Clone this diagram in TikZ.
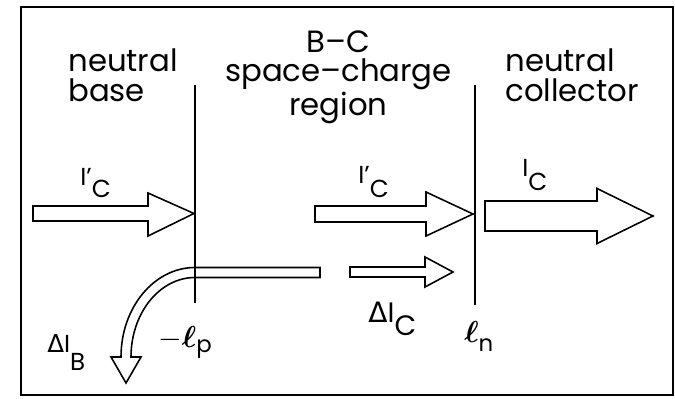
\documentclass[tikz,border=0pt]{standalone}
\usepackage{amsmath}
\usepackage{fontspec}
\setmainfont{Poppins}
\newfontfamily\greekfont{DejaVu Sans}

\tikzset{
  heading/.style={font=\fontsize{17.5}{17}\selectfont, inner sep=0pt},
  lbl/.style={font=\fontsize{14}{14}\selectfont, inner sep=0pt, anchor=base west},
  flow/.style={line width=0.9pt, line join=miter},
  edge/.style={line width=0.9pt}
}

\begin{document}
\begin{tikzpicture}

\useasboundingbox (0,0) rectangle (13.5,7.96);

% Frame
\draw[edge] (0.42,0.06) rectangle (13.46,7.82);

% Region boundaries
\coordinate (lptop) at (3.9,6.26);
\coordinate (lpbot) at (3.9,1.9);
\coordinate (lntop) at (9.5,6.26);
\coordinate (lnbot) at (9.5,1.86);

% Region titles
\node[heading, align=left, anchor=west] (base) at (1.36,6.46)
{neutral\\base};

\node[heading, align=center] (scr) at (6.77,6.42)
{B–C\\space–charge\\region};

\node[heading, align=left, anchor=west] (collector) at (10.1,6.46)
{neutral\\collector};


% I'_C in the base
\draw[flow] (0.66,3.84) -- (2.96,3.84) -- (2.96,4.10) -- (3.88,3.69)
  -- (2.96,3.24) -- (2.96,3.54) -- (0.66,3.54) -- cycle;

\node[lbl] (icbase) at (1.6,4.26)
{I'\raisebox{-0.24cm}{C}};


% I'_C in the space-charge region
\draw[flow] (6.3,3.84) -- (8.52,3.84) -- (8.52,4.12) -- (9.46,3.68)
  -- (8.52,3.24) -- (8.52,3.52) -- (6.3,3.52) -- cycle;

\node[lbl] (icscr) at (7.16,4.3)
{I'\raisebox{-0.28cm}{C}};


% Delta I_C
\draw[flow] (7.0,2.62) -- (8.5,2.62) -- (8.5,2.82) -- (9.06,2.52)
  -- (8.5,2.22) -- (8.5,2.42) -- (7.0,2.42) -- cycle;

\node[lbl, font=\fontsize{16}{16}\selectfont] (dic) at (7.36,1.52)
{{\greekfont Δ}I\raisebox{-0.26cm}{C}};


% I_C in the collector
\draw[flow] (9.7,3.94) -- (11.94,3.94) -- (11.94,4.19) -- (13.06,3.64)
  -- (11.94,3.09) -- (11.94,3.34) -- (9.7,3.34) -- cycle;

\node[lbl] (iccoll) at (10.44,4.42)
{I\raisebox{-0.28cm}{C}};


% Delta I_B, bending down into the base
\draw[flow] (6.4,2.61) -- (3.9,2.61)
  arc[start angle=90, end angle=180, x radius=1.48, y radius=1.79]
  -- (2.22,0.82) -- (2.52,0.3) -- (2.82,0.82) -- (2.62,0.82)
  arc[start angle=180, end angle=90, x radius=1.28, y radius=1.59]
  -- (6.4,2.41) -- cycle;

\node[lbl] (dib) at (0.94,0.92)
{{\greekfont Δ}I\raisebox{-0.36cm}{B}};


% Boundary lines
\draw[edge] (lptop) -- (lpbot);
\draw[edge] (lntop) -- (lnbot);

% Boundary labels
\node[lbl, font=\fontsize{19}{19}\selectfont] (lp) at (3.16,1.02)
{$-\boldsymbol{\ell}$\raisebox{-0.1cm}{\fontsize{13}{13}\selectfont p}};

\node[lbl, font=\fontsize{19}{19}\selectfont] (ln) at (9.28,1.1)
{$\boldsymbol{\ell}$\raisebox{-0.18cm}{\fontsize{13}{13}\selectfont n}};

\end{tikzpicture}
\end{document}
